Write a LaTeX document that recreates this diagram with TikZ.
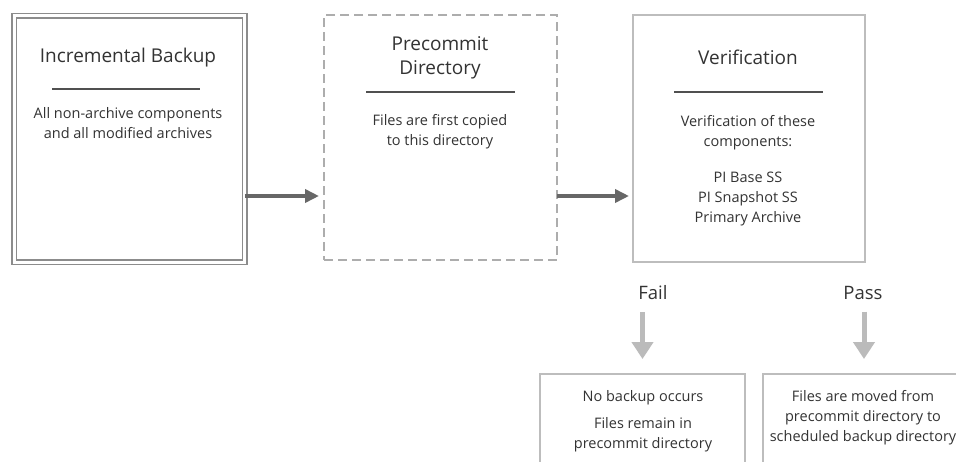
\documentclass[tikz,border=0pt]{standalone}
\usepackage{fontspec}
\setmainfont{Open Sans}
\usetikzlibrary{arrows.meta}
\definecolor{ink}{HTML}{333333}
\definecolor{rulegray}{HTML}{505050}
\definecolor{framegray}{HTML}{8C8C8C}
\definecolor{dashgray}{HTML}{ADADAD}
\definecolor{thingray}{HTML}{BDBDBD}
\definecolor{flowgray}{HTML}{676767}
\definecolor{downgray}{HTML}{BBBBBB}
\tikzset{
  every node/.style={text=ink, inner sep=0pt, outer sep=0pt},
  boxbase/.style={rectangle, fill=white},
  mainbox/.style={boxbase, draw=framegray, line width=1.8pt, double=white, double distance=2.6pt},
  dashbox/.style={boxbase, draw=dashgray, line width=2.4pt, dash pattern=on 9pt off 5pt},
  thinbox/.style={boxbase, draw=thingray, line width=1.3pt},
  titletext/.style={font=\fontsize{19}{24}\selectfont, align=center},
  bodytext/.style={font=\fontsize{14.5}{20}\selectfont, align=center},
  resulttext/.style={font=\fontsize{14.5}{20}\selectfont, align=center},
  branchtext/.style={font=\fontsize{18.5}{22}\selectfont},
  titlerule/.style={draw=rulegray, line width=1.2pt},
  flow/.style={draw=flowgray, line width=3.8pt, -{Triangle[width=13pt,length=14pt]}},
  downflow/.style={draw=downgray, line width=5pt, -{Triangle[width=21pt,length=17pt]}}
}
\begin{document}
\begin{tikzpicture}[x=1pt,y=-1pt]
\useasboundingbox (0,0) rectangle (956,461);
\clip (0,0) rectangle (956,461);
\fill[white] (0,0) rectangle (956,461);

% Stage boxes
\node[mainbox, minimum width=230.5pt, minimum height=246.5pt] (backup) at (129.5,139) {};
\node[dashbox, minimum width=233pt, minimum height=245pt] (precommit) at (440.5,137.5) {};
\node[thinbox, minimum width=232pt, minimum height=247pt] (verify) at (749,138.5) {};

% Incremental backup contents
\node[titletext] (backupTitle) at (128,58) {Incremental Backup};
\draw[titlerule] (52,89) -- (200,89);
\node[bodytext] (backupBody) at (128,123) {All non-archive components\\and all modified archives};

% Precommit directory contents
\node[titletext] (precommitTitle) at (440,58) {Precommit\\Directory};
\draw[titlerule] (366,92) -- (515,92);
\node[bodytext] (precommitBody) at (440,132) {Files are first copied\\to this directory};

% Verification contents
\node[titletext] (verifyTitle) at (748,57) {Verification};
\draw[titlerule] (674,92) -- (823,92);
\node[bodytext] (verifyBody) at (748,133) {Verification of these\\components:};
\node[bodytext] (verifyList) at (748,199) {PI Base SS\\PI Snapshot SS\\Primary Archive};

% Flow between stages
\coordinate (flowrow) at (0,196);
\draw[flow, shorten >=5pt] (backup.east |- flowrow) -- (precommit.west |- flowrow);
\draw[flow, shorten >=4pt] (precommit.east |- flowrow) -- (verify.west |- flowrow);

% Outcome branches
\node[branchtext] (fail) at (653,293) {Fail};
\node[branchtext] (pass) at (863,293) {Pass};

\node[thinbox, minimum width=205pt, minimum height=110pt] (noBackup) at (642.5,429) {};
\node[thinbox, minimum width=222pt, minimum height=110pt] (moved) at (874,429) {};

\draw[downflow, shorten <=12pt, shorten >=15pt] (fail.south -| noBackup.north) -- (noBackup.north);
\draw[downflow, shorten <=12pt, shorten >=15pt] (pass.south -| 864,0) -- (864,374);

\node[resulttext] (noBackupText1) at (643,398) {No backup occurs};
\node[resulttext] (noBackupText2) at (643,435) {Files remain in\\precommit directory};
\node[resulttext] (movedText) at (863,418) {Files are moved from\\precommit directory to\\scheduled backup directory};
\end{tikzpicture}
\end{document}
